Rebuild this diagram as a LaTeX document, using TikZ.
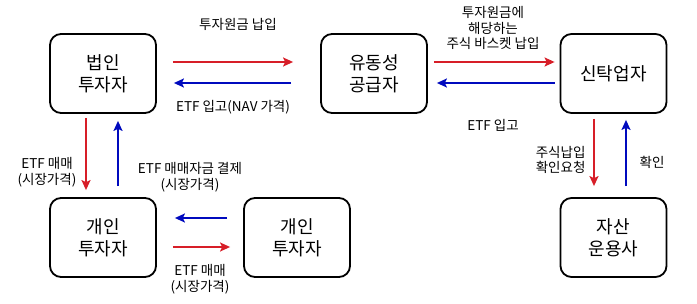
\documentclass[tikz,border=0pt]{standalone}
\usepackage{fontspec}
\setmainfont{Noto Sans CJK KR}
\usepackage{tikz}
\usetikzlibrary{arrows.meta,positioning,calc}
\definecolor{flowred}{RGB}{215,30,40}
\definecolor{flowblue}{RGB}{0,10,190}

\begin{document}
\begin{tikzpicture}[x=1pt,y=-1pt,
    party/.style={draw,line width=1.8pt,rounded corners=11pt,minimum width=106pt,minimum height=79pt,
      align=center,font=\fontsize{18}{22}\selectfont},
    note/.style={align=center,font=\fontsize{13.5}{15.5}\selectfont},
    pay/.style={draw=flowred,line width=1.6pt,-{Stealth[length=10pt,width=9pt,inset=2pt]}},
    back/.style={draw=flowblue,line width=1.6pt,-{Stealth[length=10pt,width=9pt,inset=2pt]}}]
        \useasboundingbox (0,0) rectangle (697,303);
        % boxes
        \node[party] (corp) at (103,73.5) {법인\\투자자};
        \node[party] (lp) at (374,73.5) {유동성\\공급자};
        \node[party] (trust) at (613.5,73.5) {신탁업자};
        \node[party] (retA) at (103,237.5) {개인\\투자자};
        \node[party] (retB) at (297,237.5) {개인\\투자자};
        \node[party] (amc) at (613.5,237.5) {자산\\운용사};
        % top row
        \draw[pay] ([shift={(16,-11.5)}]corp.east) -- ([shift={(-27,-11.5)}]lp.west);
        \draw[back] ([shift={(-29,9.5)}]lp.west) -- ([shift={(17,9.5)}]corp.east);
        \draw[pay] ([shift={(6,-11.5)}]lp.east) -- ([shift={(-5,-11.5)}]trust.west);
        \draw[back] ([shift={(-5,9.5)}]trust.west) -- ([shift={(9,9.5)}]lp.east);
        \node[note] (l1) at (238,24) {투자원금 납입};
        \node[note] (l2) at (233,107) {ETF 입고(NAV 가격)};
        \node[note] (l3) at (493,28) {투자원금에\\해당하는\\주식 바스켓 납입};
        \node[note] (l4) at (493,125) {ETF 입고};
        % left column
        \draw[pay] ([shift={(-17,4)}]corp.south) -- ([shift={(-17,-7)}]retA.north);
        \draw[back] ([shift={(15,-11)}]retA.north) -- ([shift={(15,7)}]corp.south);
        \node[note] (l5) at (47,172) {ETF 매매\\(시장가격)};
        \node[note] (l6) at (190,177) {ETF 매매자금 결제\\(시장가격)};
        % bottom row
        \draw[back] ([shift={(-16,-19.5)}]retB.west) -- ([shift={(18,-19.5)}]retA.east);
        \draw[pay] ([shift={(16,9.5)}]retA.east) -- ([shift={(-13,9.5)}]retB.west);
        \node[note] (l7) at (200,279) {ETF 매매\\(시장가격)};
        % right column
        \draw[pay] ([shift={(-19.5,5)}]trust.south) -- ([shift={(-19.5,-11)}]amc.north);
        \draw[back] ([shift={(12.5,-11)}]amc.north) -- ([shift={(12.5,6)}]trust.south);
        \node[note,anchor=east] (l8) at (589,160) {주식납입\\확인요청};
        \node[note] (l9) at (652,162) {확인};
      \end{tikzpicture}
\end{document}
